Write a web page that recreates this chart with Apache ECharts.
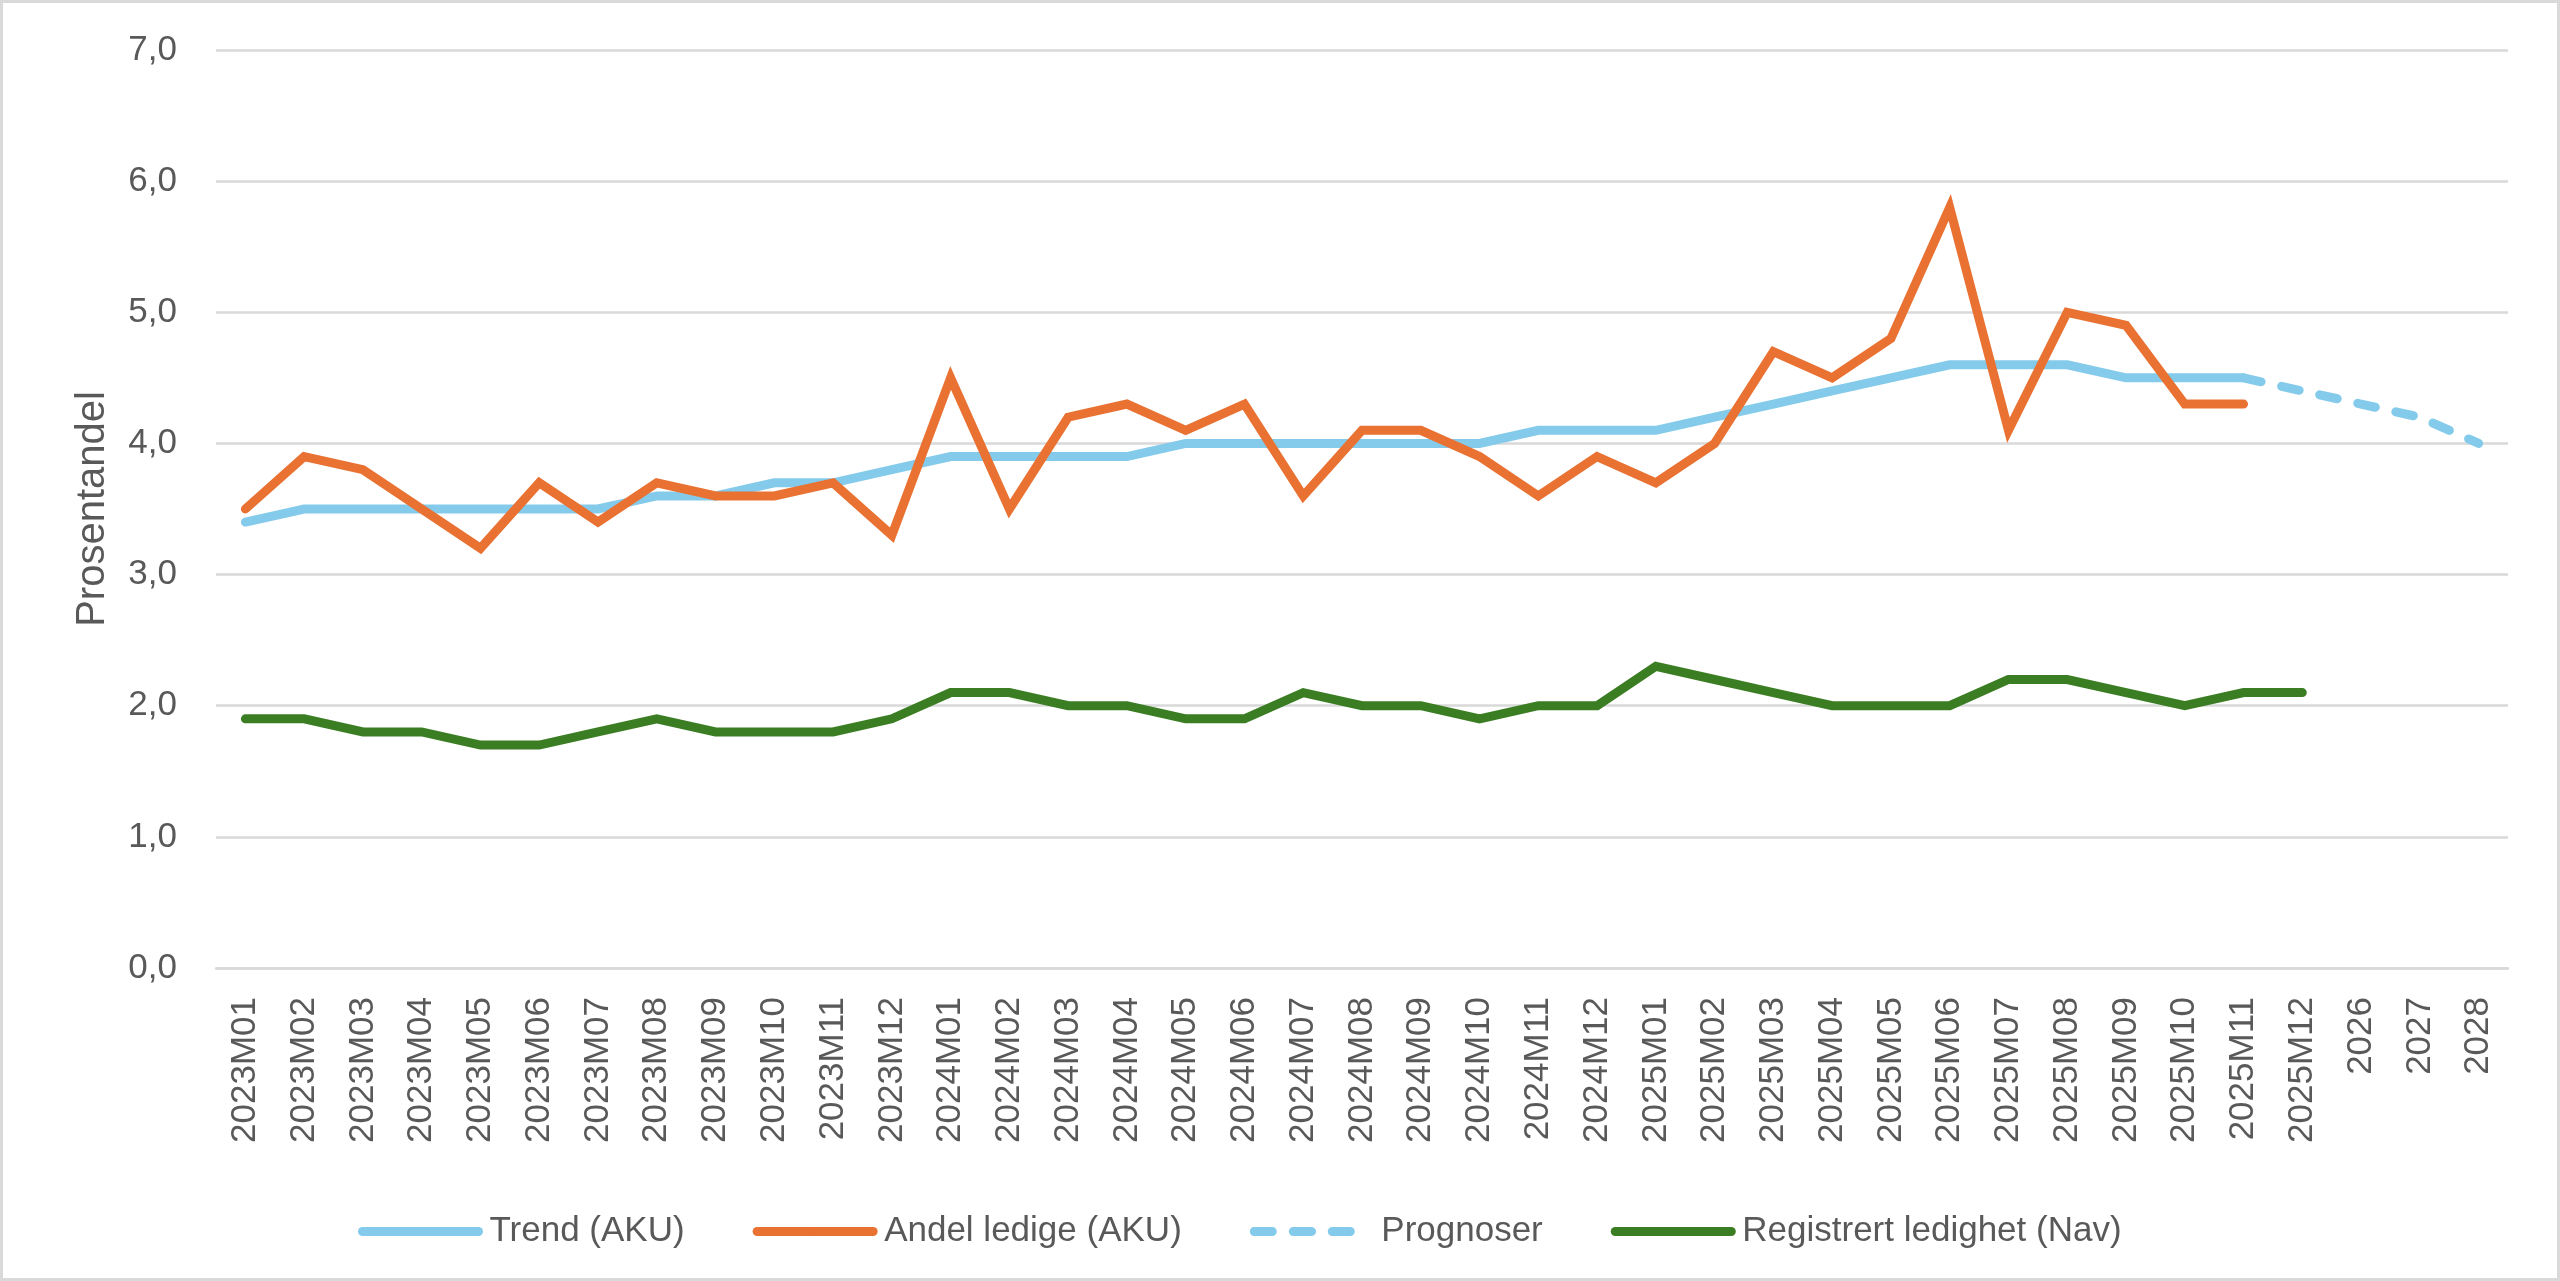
<!DOCTYPE html>
<html>
<head>
<meta charset="utf-8">
<script src="https://cdn.jsdelivr.net/npm/echarts@6/dist/echarts.min.js"></script>
<style>
  html, body { margin: 0; padding: 0; background: #ffffff; }
  #chart { position: absolute; left: 0; top: 0; width: 2560px; height: 1281px; }
  #frame { position: absolute; left: 0; top: 0; width: 2560px; height: 1281px; box-sizing: border-box; border: 3px solid #d9d9d9; pointer-events: none; }
</style>
</head>
<body>
<div id="chart"></div>
<div id="frame"></div>
<script>
const categories = [
  '2023M01','2023M02','2023M03','2023M04','2023M05','2023M06','2023M07','2023M08','2023M09','2023M10','2023M11','2023M12',
  '2024M01','2024M02','2024M03','2024M04','2024M05','2024M06','2024M07','2024M08','2024M09','2024M10','2024M11','2024M12',
  '2025M01','2025M02','2025M03','2025M04','2025M05','2025M06','2025M07','2025M08','2025M09','2025M10','2025M11','2025M12',
  '2026','2027','2028'
];

const trendAKU = [
  3.4,3.5,3.5,3.5,3.5,3.5,3.5,3.6,3.6,3.7,3.7,3.8,
  3.9,3.9,3.9,3.9,4.0,4.0,4.0,4.0,4.0,4.0,4.1,4.1,
  4.1,4.2,4.3,4.4,4.5,4.6,4.6,4.6,4.5,4.5,4.5,null,
  null,null,null
];

const andelLedigeAKU = [
  3.5,3.9,3.8,3.5,3.2,3.7,3.4,3.7,3.6,3.6,3.7,3.3,
  4.5,3.5,4.2,4.3,4.1,4.3,3.6,4.1,4.1,3.9,3.6,3.9,
  3.7,4.0,4.7,4.5,4.8,5.8,4.1,5.0,4.9,4.3,4.3,null,
  null,null,null
];

const prognoser = [
  null,null,null,null,null,null,null,null,null,null,null,null,
  null,null,null,null,null,null,null,null,null,null,null,null,
  null,null,null,null,null,null,null,null,null,null,4.5,4.4,
  4.3,4.2,4.0
];

const registrertNav = [
  1.9,1.9,1.8,1.8,1.7,1.7,1.8,1.9,1.8,1.8,1.8,1.9,
  2.1,2.1,2.0,2.0,1.9,1.9,2.1,2.0,2.0,1.9,2.0,2.0,
  2.3,2.2,2.1,2.0,2.0,2.0,2.2,2.2,2.1,2.0,2.1,2.1,
  null,null,null
];

const yTicks = { min: 0, max: 7, interval: 1 };

const FONT = '"Liberation Sans", Arial, sans-serif';
const TEXT = '#595959';
const GRID = '#d9d9d9';
const LW = 9;

const chart = echarts.init(document.getElementById('chart'), null, { renderer: 'canvas' });

function lineSeries(name, data, color, dashed) {
  return {
    name: name,
    type: 'line',
    data: data,
    symbol: 'none',
    showSymbol: false,
    connectNulls: false,
    lineStyle: {
      color: color,
      width: LW,
      type: dashed ? [18, 21] : 'solid',
      cap: 'round',
      join: 'miter'
    },
    itemStyle: { color: color },
    emphasis: { disabled: true },
    animation: false
  };
}

chart.setOption({
  animation: false,
  backgroundColor: '#ffffff',
  textStyle: { fontFamily: FONT },
  grid: { left: 216, right: 52, top: 50, bottom: 313, containLabel: false },
  legend: {
    left: 353,
    top: 1209,
    itemWidth: 116,
    itemHeight: 9,
    itemGap: 68,
    textStyle: { fontFamily: FONT, fontSize: 35, color: TEXT, padding: [0, 0, 0, 6] },
    lineStyle: { width: LW, cap: 'round' },
    data: ['Trend (AKU)', 'Andel ledige (AKU)', 'Prognoser', 'Registrert ledighet (Nav)']
  },
  xAxis: {
    type: 'category',
    data: categories,
    boundaryGap: true,
    axisLine: { show: true, lineStyle: { color: GRID, width: 2.5 } },
    axisTick: { show: false },
    axisLabel: {
      interval: 0,
      rotate: 90,
      margin: 29,
      fontFamily: FONT,
      fontSize: 35,
      color: TEXT
    },
    splitLine: { show: false }
  },
  yAxis: {
    type: 'value',
    min: yTicks.min,
    max: yTicks.max,
    interval: yTicks.interval,
    name: 'Prosentandel',
    nameLocation: 'middle',
    nameGap: 103,
    nameRotate: 90,
    nameTextStyle: { fontFamily: FONT, fontSize: 40, color: TEXT },
    axisLine: { show: false },
    axisTick: { show: false },
    axisLabel: {
      margin: 39,
      fontFamily: FONT,
      fontSize: 35,
      color: TEXT,
      formatter: function (v) { return v.toFixed(1).replace('.', ','); }
    },
    splitLine: { show: true, lineStyle: { color: GRID, width: 2.5 } }
  },
  series: [
    lineSeries('Trend (AKU)', trendAKU, '#84cbeb', false),
    lineSeries('Andel ledige (AKU)', andelLedigeAKU, '#e97132', false),
    lineSeries('Prognoser', prognoser, '#84cbeb', true),
    lineSeries('Registrert ledighet (Nav)', registrertNav, '#3b7d23', false)
  ]
});
</script>
</body>
</html>
